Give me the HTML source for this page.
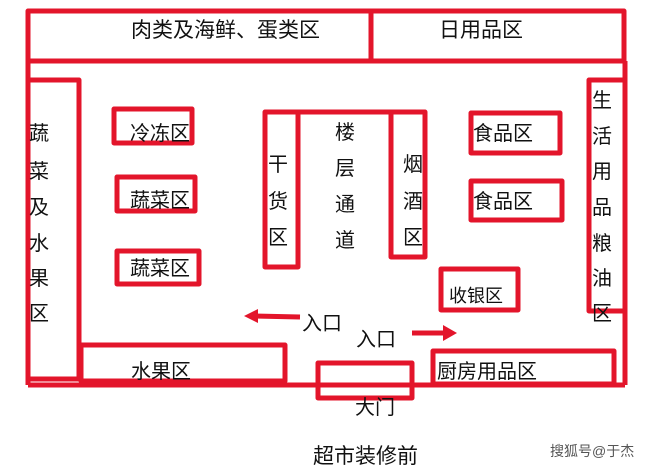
<!DOCTYPE html>
<html><head><meta charset="utf-8"><style>
html,body{margin:0;padding:0;background:#fff;}
svg{display:block}
text{font-family:"Liberation Sans","Noto Sans CJK SC",sans-serif;fill:#111;font-size:20px}
</style></head><body>
<svg width="652" height="470" viewBox="0 0 652 470">
<g fill="none" stroke="#e3152b" stroke-width="5" stroke-linejoin="round">
<rect x="28" y="11" width="596" height="50"/>
<line x1="371" y1="11" x2="371" y2="61"/>
<line x1="28" y1="61" x2="28" y2="385"/>
<line x1="625" y1="61" x2="625" y2="385"/>
<line x1="28" y1="385" x2="625" y2="385"/>
<rect x="28" y="80" width="51" height="299"/>
<rect x="114" y="109" width="78" height="34"/>
<rect x="117" y="177" width="78" height="34"/>
<rect x="117" y="251" width="82" height="33"/>
<rect x="265" y="112" width="33" height="155"/>
<line x1="298" y1="112" x2="425" y2="112"/>
<rect x="391" y="112" width="34" height="145"/>
<rect x="471" y="113" width="89" height="40"/>
<rect x="471" y="181" width="91" height="39"/>
<rect x="589" y="80" width="36" height="231"/>
<rect x="441" y="269" width="77" height="41"/>
<rect x="81" y="345" width="204" height="36"/>
<rect x="318" y="363" width="94" height="35"/>
<rect x="433" y="351" width="181" height="33"/>
<line x1="300" y1="317" x2="252" y2="316"/>
<line x1="412" y1="333" x2="448" y2="333"/>
</g>
<g fill="#e3152b">
<polygon points="244,316 258,309 258,323"/>
<polygon points="457,333 443,325 443,341"/>
</g>
<text x="131" y="37" style="font-size:21px">肉类及海鲜、蛋类区</text>
<text x="439" y="37" style="font-size:21px">日用品区</text>
<g>
<text x="29" y="140">蔬</text><text x="29" y="178">菜</text><text x="29" y="214">及</text><text x="29" y="250">水</text><text x="29" y="285">果</text><text x="29" y="320">区</text>
<text x="130" y="140">冷冻区</text>
<text x="130" y="207">蔬菜区</text>
<text x="130" y="275">蔬菜区</text>
<text x="268" y="171">干</text><text x="268" y="208">货</text><text x="268" y="244">区</text>
<text x="335" y="139">楼</text><text x="335" y="175">层</text><text x="335" y="211">通</text><text x="335" y="247">道</text>
<text x="403" y="171">烟</text><text x="403" y="208">酒</text><text x="403" y="244">区</text>
<text x="473" y="140">食品区</text>
<text x="473" y="208">食品区</text>
<text x="592" y="107">生</text><text x="592" y="143">活</text><text x="592" y="178">用</text><text x="592" y="214">品</text><text x="592" y="250">粮</text><text x="592" y="285">油</text><text x="592" y="320">区</text>
<text x="449" y="302" style="font-size:18px">收银区</text>
<text x="302" y="330">入口</text>
<text x="356" y="346">入口</text>
<text x="131" y="378">水果区</text>
<text x="437" y="378">厨房用品区</text>
<text x="355" y="414">大门</text>
</g>
<text x="313" y="463" style="font-size:21px">超市装修前</text>
<text x="550" y="456" style="font-size:14px;fill:#555">搜狐号@于杰</text>
</svg>
</body></html>
